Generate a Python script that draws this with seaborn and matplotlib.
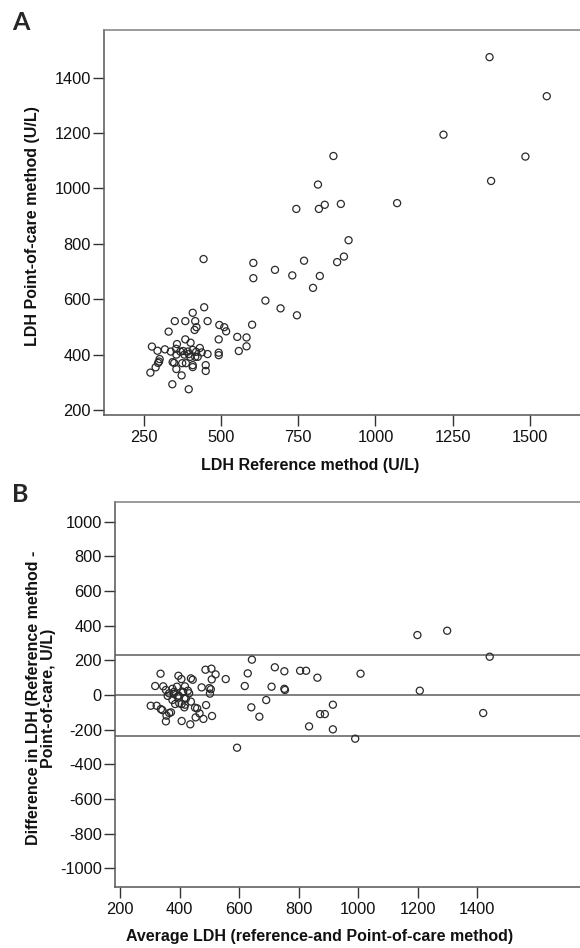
import numpy as np
import pandas as pd
import seaborn as sns
import matplotlib
matplotlib.use("Agg")
import matplotlib.pyplot as plt

# Panel A: reference method vs point-of-care (U/L)
ref_method = [1369, 1554, 1220, 864, 1485, 814, 1374, 744, 817, 836, 888, 1070,
              444, 605, 605, 675, 769, 731, 820, 798, 876, 898, 913, 644, 693, 746,
              601, 553, 583, 583, 558, 446, 409, 351, 385, 417, 457, 421, 415, 331,
              495, 511, 517, 493, 493, 493, 457, 451, 451, 432, 438, 425, 409, 409,
              396, 343, 373, 356, 344, 349, 272, 289, 297, 302, 300, 277, 295, 319,
              338, 358, 355, 378, 385, 402, 393, 356, 375, 387, 396, 401, 417, 420,
              409, 369, 382]
poc_method = [1474, 1333, 1194, 1117, 1115, 1014, 1027, 926, 926, 941, 944, 947,
              745, 731, 676, 706, 739, 686, 684, 641, 734, 754, 813, 595, 567, 542,
              508, 464, 462, 430, 413, 571, 551, 521, 521, 521, 521, 499, 489, 483,
              507, 499, 484, 455, 407, 398, 402, 362, 341, 424, 408, 392, 362, 355,
              275, 293, 325, 348, 373, 370, 335, 354, 370, 384, 375, 429, 414, 419,
              411, 438, 421, 413, 455, 443, 411, 400, 369, 369, 402, 392, 392, 410,
              417, 411, 400]

# Panel B: Bland-Altman (average vs difference)
avg_ldh = [1199, 1299, 1442, 643, 720, 752, 805, 825, 863, 1008, 629, 487, 507,
           521, 555, 508, 336, 396, 406, 438, 444, 619, 709, 752, 318, 345, 474,
           500, 754, 1207, 303, 323, 342, 337, 354, 356, 371, 360, 354, 376, 391,
           380, 397, 407, 385, 412, 418, 428, 421, 418, 407, 436, 452, 459, 467,
           454, 480, 489, 509, 502, 505, 641, 668, 691, 593, 835, 872, 888, 915,
           915, 990, 1420, 382, 365, 410, 432, 393, 416, 376, 438, 399, 365, 416]
diff_ldh = [346, 371, 221, 204, 160, 137, 140, 140, 100, 123, 125, 146, 152,
            119, 92, 90, 123, 111, 92, 96, 88, 52, 48, 36, 52, 50, 44,
            40, 29, 25, -62, -62, -87, -81, -152, -119, -100, -5, 29, 36, 48,
            7, -3, -52, -52, 17, 50, 25, -21, -56, -150, -169, -73, -77, -106,
            -129, -138, -58, -121, 8, 33, -71, -125, -29, -304, -181, -110, -110, -56,
            -198, -252, -104, 19, 10, 19, 10, -10, -19, -29, -38, -48, -104, -71]
mean_diff = -1
loa_upper = 233
loa_lower = -235

df_a = pd.DataFrame({"ref": ref_method, "poc": poc_method})
df_b = pd.DataFrame({"avg": avg_ldh, "diff": diff_ldh})

sns.set_style("white")
plt.rcParams["font.family"] = ["Liberation Sans", "DejaVu Sans"]
plt.rcParams["axes.unicode_minus"] = False

W, H = 580, 948
fig = plt.figure(figsize=(W / 100, H / 100), dpi=100)

pt_kw = dict(s=26, facecolor="none", edgecolor="#2a2a2a", linewidth=0.9)
lab_kw = dict(fontsize=11.5, fontweight="bold", color="#111111")


def style_axes(ax):
    ax.spines["left"].set_color("#555555")
    ax.spines["bottom"].set_color("#555555")
    ax.spines["top"].set_color("#808080")
    for side in ["left", "top", "bottom"]:
        ax.spines[side].set_linewidth(1.1)
    ax.spines["right"].set_visible(False)
    ax.tick_params(axis="both", direction="out", length=8, width=1,
                   color="#333333", labelsize=11.8, labelcolor="#111111",
                   left=True, bottom=True)
    ax.tick_params(axis="y", pad=1.5)
    ax.tick_params(axis="x", pad=3)


# ---- Panel A ----
ax1 = fig.add_axes([104 / W, 1 - 415 / H, 478 / W, 385 / H])
sns.scatterplot(data=df_a, x="ref", y="poc", ax=ax1, **pt_kw)
ax1.set_xlim(122, 1668)
ax1.set_ylim(182, 1572)
ax1.set_xticks([250, 500, 750, 1000, 1250, 1500])
ax1.set_yticks([200, 400, 600, 800, 1000, 1200, 1400])
style_axes(ax1)
ax1.set_xlabel("LDH Reference method (U/L)", **lab_kw)
ax1.set_ylabel("LDH Point-of-care method (U/L)", **lab_kw)
ax1.xaxis.set_label_coords(0.431, -0.112)
ax1.yaxis.set_label_coords(-0.134, 0.491)

# ---- Panel B ----
ax2 = fig.add_axes([115 / W, 1 - 886.7 / H, 467 / W, 384.4 / H])
for yv in [loa_upper, mean_diff, loa_lower]:
    ax2.axhline(yv, color="#6a6a6a", linewidth=1.2, zorder=1)
sns.scatterplot(data=df_b, x="avg", y="diff", ax=ax2, zorder=2, **pt_kw)
ax2.set_xlim(183, 1752)
ax2.set_ylim(-1106, 1112)
ax2.set_xticks([200, 400, 600, 800, 1000, 1200, 1400])
ax2.set_yticks([1000, 800, 600, 400, 200, 0, -200, -400, -600, -800, -1000])
style_axes(ax2)
ax2.set_xlabel("Average LDH (reference-and Point-of-care method)", **lab_kw)
ax2.set_ylabel("Difference in LDH (Reference method -\nPoint-of-care, U/L)",
               linespacing=1.05, **lab_kw)
ax2.xaxis.set_label_coords(0.437, -0.111)
ax2.yaxis.set_label_coords(-0.126, 0.491)

fig.text(12 / W, 1 - 23 / H, "A", fontsize=18, fontweight="bold",
         family=["Lato", "DejaVu Sans"], va="center", ha="left")
fig.text(12 / W, 1 - 495 / H, "B", fontsize=18, fontweight="bold",
         family=["Lato", "DejaVu Sans"], va="center", ha="left")

fig.savefig("out.png", dpi=100)
